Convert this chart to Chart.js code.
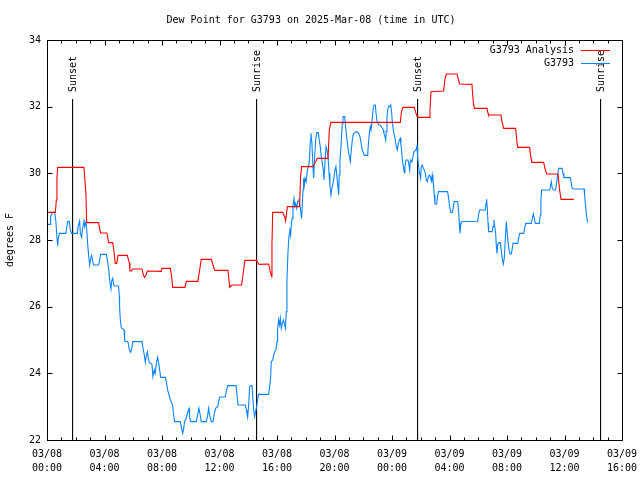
<!DOCTYPE html>
<html>
<head>
<meta charset="utf-8">
<script src="https://cdn.jsdelivr.net/npm/chart.js@4.4.1/dist/chart.umd.min.js"></script>
<style>
html, body { margin: 0; padding: 0; background: #fff; }
</style>
</head>
<body>
<canvas id="grafico" width="640" height="480"></canvas>
<script>
// hours since 03/08 00:00 UTC
var anaHours = [
    0.07,0.58,0.65,0.69,0.74,2.57,2.62,2.71,2.76,3.59,
    3.66,3.73,4.17,4.29,4.57,4.64,4.71,4.75,4.85,4.94,
    5.59,5.73,5.77,5.87,5.96,6.61,6.70,6.79,6.89,6.98,
    7.95,8.00,8.58,8.67,8.74,9.60,9.69,10.50,10.62,10.73,
    11.43,11.55,11.66,12.59,12.66,12.71,12.80,12.87,13.54,13.63,
    13.77,14.56,14.65,14.75,15.42,15.53,15.63,15.65,15.70,16.39,
    16.53,16.60,16.72,17.57,17.64,17.71,18.50,18.71,18.80,19.55,
    19.64,19.75,24.58,24.65,24.76,25.55,25.67,25.78,26.62,26.64,
    26.71,27.59,27.69,27.78,28.52,28.63,28.70,29.56,29.66,29.73,
    30.61,30.68,30.72,31.58,31.65,31.77,32.60,32.69,32.74,33.58,
    33.62,33.72,34.55,34.64,34.76,35.55,35.66,35.76,36.64
];
var anaDew = [
    28.83,28.83,29.20,29.82,30.18,30.18,29.90,29.35,28.52,28.52,
    28.34,28.21,28.21,27.92,27.92,27.73,27.45,27.30,27.30,27.54,
    27.54,27.30,27.07,27.07,27.13,27.13,26.95,26.88,26.95,27.07,
    27.06,27.15,27.15,26.90,26.58,26.58,26.76,26.76,27.10,27.42,
    27.42,27.25,27.09,27.09,26.80,26.58,26.62,26.65,26.65,26.95,
    27.39,27.39,27.33,27.27,27.28,27.05,26.90,27.88,28.83,28.83,
    28.70,28.57,29.00,29.00,29.90,30.20,30.20,30.37,30.45,30.45,
    31.30,31.53,31.53,31.83,31.98,31.98,31.80,31.68,31.68,31.88,
    32.45,32.47,32.85,32.98,32.98,32.80,32.68,32.67,32.10,31.95,
    31.95,31.80,31.75,31.75,31.55,31.35,31.35,30.95,30.78,30.78,
    30.60,30.33,30.33,30.15,29.98,29.98,29.50,29.22,29.22
];

var obsHours = [
    0.07,0.21,0.25,0.39,0.53,0.62,0.69,0.74,0.79,0.86,
    1.32,1.34,1.44,1.55,1.62,1.71,2.11,2.16,2.27,2.32,
    2.41,2.46,2.50,2.57,2.62,2.71,2.78,2.85,2.92,2.97,
    3.04,3.11,3.18,3.24,3.59,3.66,3.73,4.13,4.22,4.31,
    4.38,4.45,4.50,4.57,4.64,4.71,4.98,5.03,5.05,5.10,
    5.17,5.36,5.40,5.63,5.73,5.82,5.91,5.96,6.61,6.70,
    6.77,6.84,6.91,6.98,7.05,7.12,7.30,7.37,7.46,7.53,
    7.60,7.70,7.77,7.84,7.91,8.23,8.30,8.39,8.49,8.58,
    8.65,8.74,8.81,8.88,9.27,9.34,9.44,9.51,9.57,9.69,
    9.78,9.88,9.92,9.99,10.39,10.50,10.57,10.66,10.73,11.08,
    11.18,11.24,11.31,11.43,11.55,11.64,11.73,11.87,11.94,12.01,
    12.40,12.47,12.57,13.15,13.22,13.29,13.80,13.87,13.91,13.96,
    14.03,14.10,14.17,14.26,14.31,14.38,14.44,14.49,14.58,14.65,
    14.72,15.42,15.49,15.56,15.60,15.70,15.77,15.84,15.93,16.00,
    16.04,16.11,16.18,16.23,16.30,16.37,16.44,16.51,16.58,16.65,
    16.69,16.76,16.83,16.90,16.95,17.00,17.06,17.11,17.18,17.23,
    17.30,17.37,17.44,17.51,17.57,17.64,17.71,17.76,17.81,17.85,
    17.90,17.95,18.02,18.11,18.20,18.27,18.32,18.36,18.43,18.50,
    18.55,18.62,18.69,18.76,18.87,18.94,19.01,19.08,19.15,19.22,
    19.27,19.34,19.41,19.48,19.55,19.62,19.68,19.75,19.82,19.89,
    19.96,20.03,20.10,20.17,20.24,20.29,20.33,20.38,20.45,20.50,
    20.54,20.59,20.71,20.75,20.80,20.87,20.94,21.01,21.10,21.17,
    21.24,21.31,21.40,21.56,21.68,21.77,21.87,21.93,22.03,22.07,
    22.31,22.35,22.42,22.49,22.54,22.61,22.68,22.75,22.84,22.89,
    22.96,23.02,23.09,23.19,23.26,23.33,23.40,23.44,23.51,23.56,
    23.60,23.65,23.72,23.79,23.86,23.91,23.98,24.02,24.09,24.16,
    24.23,24.30,24.37,24.44,24.51,24.58,24.62,24.67,24.72,24.79,
    24.86,24.90,24.97,25.11,25.18,25.23,25.27,25.32,25.39,25.46,
    25.53,25.67,25.74,25.78,25.85,25.92,25.99,26.04,26.11,26.18,
    26.25,26.32,26.39,26.46,26.53,26.60,26.67,26.71,26.76,26.80,
    26.85,26.90,26.94,26.99,27.11,27.18,27.24,27.87,27.94,28.01,
    28.08,28.20,28.27,28.33,28.57,28.64,28.68,28.73,28.78,28.82,
    29.96,30.03,30.10,30.49,30.54,30.58,30.63,30.68,30.72,30.96,
    31.03,31.09,31.16,31.21,31.26,31.30,31.35,31.42,31.54,31.61,
    31.67,31.74,31.81,31.88,31.95,32.00,32.07,32.14,32.21,32.30,
    32.37,32.42,32.74,32.81,32.88,33.16,33.23,33.30,33.69,33.76,
    33.83,33.90,33.97,34.25,34.32,34.36,34.41,34.97,35.04,35.08,
    35.15,35.25,35.38,35.45,35.52,35.59,35.83,35.90,35.96,36.41,
    36.47,36.54,36.61,37.36,37.40,37.47,37.54,37.61
];
var obsDew = [
    28.47,28.47,28.70,28.83,28.83,28.55,28.10,27.83,28.05,28.20,
    28.20,28.30,28.55,28.55,28.30,28.20,28.20,28.40,28.57,28.20,
    28.08,28.30,28.30,28.57,28.40,28.55,28.20,27.75,27.45,27.25,
    27.45,27.54,27.35,27.25,27.25,27.40,27.57,27.57,27.35,27.05,
    26.72,26.53,26.77,26.85,26.65,26.62,26.62,26.30,26.00,25.60,
    25.37,25.30,24.97,24.95,24.70,24.63,24.77,24.95,24.95,24.70,
    24.55,24.33,24.55,24.65,24.45,24.32,24.27,23.90,24.10,24.00,
    24.30,24.48,24.30,24.10,23.88,23.88,23.75,23.50,23.35,23.20,
    23.15,23.03,22.75,22.55,22.55,22.40,22.20,22.35,22.55,22.65,
    22.83,22.95,22.70,22.55,22.55,22.80,22.95,22.75,22.55,22.55,
    22.75,22.95,22.75,22.55,22.55,22.80,22.95,23.00,23.15,23.29,
    23.29,23.45,23.63,23.63,23.35,23.05,23.05,22.90,22.80,22.68,
    23.05,23.60,23.63,23.63,23.30,22.90,22.70,22.80,23.00,23.20,
    23.37,23.37,23.60,23.90,24.35,24.40,24.55,24.65,24.70,24.95,
    25.30,25.60,25.45,25.65,25.35,25.50,25.60,25.50,25.35,25.85,
    26.75,27.60,28.10,28.30,28.15,28.50,28.65,29.05,29.25,29.00,
    29.10,28.95,29.15,29.20,29.10,28.90,28.65,29.05,29.50,29.85,
    29.65,29.85,29.75,30.10,30.20,30.50,31.00,31.20,30.90,30.20,
    29.85,30.50,31.00,31.22,31.22,31.00,30.80,30.50,30.30,30.10,
    29.80,30.35,30.80,30.70,30.50,30.00,29.65,29.35,29.55,29.70,
    29.85,30.10,30.20,29.90,29.60,29.35,29.95,30.40,30.80,31.20,
    31.50,31.70,31.70,31.50,31.30,31.00,30.75,30.55,30.35,30.70,
    31.00,31.18,31.22,31.25,31.20,31.10,30.85,30.70,30.60,30.54,
    30.54,30.85,31.20,31.40,31.30,31.55,31.90,32.05,32.05,31.80,
    31.55,31.50,31.45,31.45,31.40,31.35,31.30,31.20,31.10,31.00,
    31.25,31.70,31.95,32.02,32.00,32.05,31.80,31.55,31.30,31.15,
    31.00,30.80,30.70,30.90,31.00,31.05,30.85,30.70,30.40,30.20,
    30.02,30.20,30.40,30.40,30.25,30.10,30.35,30.40,30.35,30.50,
    30.65,30.70,30.82,30.50,30.20,30.00,29.85,30.20,30.25,30.15,
    30.10,30.00,29.80,29.75,29.90,29.95,29.90,29.80,29.75,29.95,
    29.80,29.60,29.35,29.08,29.08,29.35,29.45,29.45,29.25,29.00,
    28.83,28.83,29.00,29.15,29.15,28.85,28.50,28.20,28.45,28.55,
    28.56,28.78,28.90,28.90,29.10,29.22,28.95,28.50,28.25,28.25,
    28.40,28.60,28.35,28.20,27.80,27.60,27.85,27.92,27.92,27.65,
    27.45,27.28,27.45,28.00,28.55,28.30,27.95,27.70,27.58,27.58,
    27.75,27.90,27.90,28.05,28.20,28.20,28.35,28.50,28.50,28.65,
    28.78,28.65,28.50,28.50,28.75,29.20,29.50,29.50,29.65,29.75,
    29.55,29.50,29.50,29.70,29.95,30.15,30.15,30.00,29.87,29.87,
    29.70,29.55,29.53,29.53,29.35,29.00,28.70,28.52
];

var eventHours = [1.78, 14.58, 25.78, 38.51];
var eventNames = ['Sunset', 'Sunrise', 'Sunset', 'Sunrise'];
var eventTop = 32.23;

var xTickHours = [0, 4, 8, 12, 16, 20, 24, 28, 32, 36, 40];
var xTickDates = ['03/08','03/08','03/08','03/08','03/08','03/08','03/09','03/09','03/09','03/09','03/09'];
var xTickTimes = ['00:00','04:00','08:00','12:00','16:00','20:00','00:00','04:00','08:00','12:00','16:00'];

var FONTE = 'DejaVu Sans Mono';
var corAnalise = '#ff0000';
var corEstacao = '#0a84ff';

function montaPontos(xs, ys) {
    var arr = [];
    for (var i in xs) arr.push({x: xs[i], y: ys[i]});
    return arr;
}

var datasets = [
    {label: 'G3793 Analysis', data: montaPontos(anaHours, anaDew), borderColor: corAnalise},
    {label: 'G3793', data: montaPontos(obsHours, obsDew), borderColor: corEstacao}
];
for (var i in eventHours) {
    datasets.push({
        label: eventNames[i],
        data: [{x: eventHours[i], y: 22}, {x: eventHours[i], y: eventTop}],
        borderColor: '#000'
    });
}
datasets.forEach(function(d) {
    d.showLine = true;
    d.pointRadius = 0;
    d.borderWidth = 1.1;
    d.tension = 0;
    d.fill = false;
});

// gnuplot style: frame, inward ticks, event labels, legend
var extras = {
    id: 'extras',
    afterDatasetsDraw: function(chart) {
        var ctx = chart.ctx;
        var a = chart.chartArea;
        var xs = chart.scales.x, ys = chart.scales.y;
        var l = Math.round(a.left) + 0.5, r = Math.round(a.right) + 0.5;
        var t = Math.round(a.top) + 0.5, b = Math.round(a.bottom) + 0.5;
        ctx.save();
        ctx.strokeStyle = '#000';
        ctx.lineWidth = 1;
        ctx.strokeRect(l, t, r - l, b - t);
        ctx.beginPath();
        xs.ticks.forEach(function(tk) {
            var px = Math.round(xs.getPixelForValue(tk.value)) + 0.5;
            var len = tk.value % 4 === 0 ? 5 : 3;
            ctx.moveTo(px, b); ctx.lineTo(px, b - len);
            ctx.moveTo(px, t); ctx.lineTo(px, t + len);
        });
        ys.ticks.forEach(function(tk) {
            var py = Math.round(ys.getPixelForValue(tk.value)) + 0.5;
            ctx.moveTo(l, py); ctx.lineTo(l + 5, py);
            ctx.moveTo(r, py); ctx.lineTo(r - 5, py);
        });
        ctx.stroke();

        ctx.font = '10px "' + FONTE + '"';
        ctx.fillStyle = '#000';
        ctx.textBaseline = 'middle';
        ctx.textAlign = 'left';
        for (var i in eventHours) {
            ctx.save();
            ctx.translate(xs.getPixelForValue(eventHours[i]) + 0.5, ys.getPixelForValue(eventTop) - 7);
            ctx.rotate(-Math.PI / 2);
            ctx.fillText(eventNames[i], 0, 0);
            ctx.restore();
        }

        ctx.textAlign = 'right';
        for (var k = 0; k < 2; k++) {
            var ds = chart.data.datasets[k];
            var y = Math.round(a.top + 10 + k * 12.5) + 0.5;
            ctx.fillStyle = '#000';
            ctx.fillText(ds.label, a.right - 48, y);
            ctx.strokeStyle = ds.borderColor;
            ctx.beginPath();
            ctx.moveTo(a.right - 41, y);
            ctx.lineTo(a.right - 12, y);
            ctx.stroke();
        }
        ctx.restore();
    }
};

new Chart(document.getElementById('grafico'), {
    type: 'scatter',
    data: {datasets: datasets},
    options: {
        responsive: false,
        animation: false,
        devicePixelRatio: 1,
        layout: {padding: {left: 0, right: 18, top: 0, bottom: 0}},
        plugins: {
            legend: {display: false},
            tooltip: {enabled: false},
            title: {
                display: true,
                text: 'Dew Point for G3793 on 2025-Mar-08 (time in UTC)',
                color: '#000',
                font: {family: FONTE, size: 10, weight: 'normal', lineHeight: 1.2},
                padding: {top: 14, bottom: 14}
            }
        },
        scales: {
            x: {
                type: 'linear',
                min: 0,
                max: 40,
                grid: {display: false, drawTicks: false},
                border: {display: false},
                ticks: {
                    stepSize: 1,
                    autoSkip: false,
                    maxRotation: 0,
                    padding: 7,
                    color: '#000',
                    font: {family: FONTE, size: 10, lineHeight: 1.4},
                    callback: function(v) {
                        var idx = xTickHours.indexOf(v);
                        return idx < 0 ? '' : [xTickDates[idx], xTickTimes[idx]];
                    }
                },
                afterFit: function(s) { s.height = 40; s.paddingLeft = 0; s.paddingRight = 0; }
            },
            y: {
                min: 22,
                max: 34,
                grid: {display: false, drawTicks: false},
                border: {display: false},
                ticks: {
                    stepSize: 2,
                    padding: 6,
                    color: '#000',
                    font: {family: FONTE, size: 10}
                },
                title: {
                    display: true,
                    text: 'degrees F',
                    color: '#000',
                    font: {family: FONTE, size: 10},
                    padding: {top: 4, bottom: 0}
                },
                afterFit: function(s) { s.width = 47; s.paddingTop = 0; s.paddingBottom = 0; }
            }
        }
    },
    plugins: [extras]
});
</script>
</body>
</html>
